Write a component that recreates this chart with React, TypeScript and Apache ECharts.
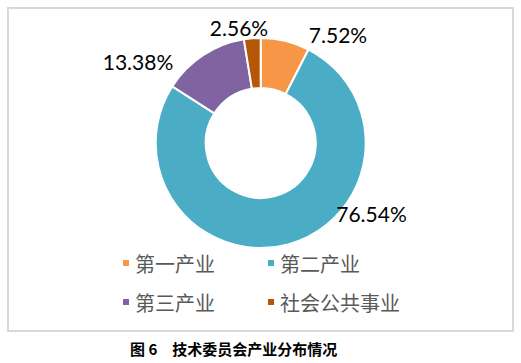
import React, { useEffect, useRef } from "react";
import * as echarts from "echarts";

const categories = ["第一产业", "第二产业", "第三产业", "社会公共事业"];
const values = [7.52, 76.54, 13.38, 2.56];
const colors = ["#F79646", "#4BACC6", "#8064A2", "#B65708"];
const caption = "图 6　技术委员会产业分布情况";

// label anchor positions (px) in chart space
const labelPos: [number, number][] = [
  [338, 34],
  [371.5, 213],
  [138, 61],
  [239, 27],
];

export default function App() {
  const ref = useRef<HTMLDivElement>(null);
  useEffect(() => {
    document.body.style.margin = "0";
    const chart = echarts.init(ref.current!, undefined, { renderer: "svg" });
    const legendText = {
      color: "#595959",
      fontSize: 20,
      fontFamily: "Noto Sans CJK SC",
    };
    const legendBase = {
      left: 116,
      itemWidth: 8,
      itemHeight: 8,
      itemGap: 51,
      icon: "rect",
      textStyle: legendText,
      selectedMode: false,
    };
    chart.setOption({
      animation: false,
      color: colors,
      legend: [
        { ...legendBase, data: [categories[0], categories[1]], top: 248 },
        { ...legendBase, data: [categories[2], categories[3]], top: 287 },
      ],
      graphic: [
        {
          type: "rect",
          shape: { x: 8, y: 8, width: 505, height: 323 },
          style: { fill: "none", stroke: "#D9D9D9", lineWidth: 2 },
          silent: true,
        },
        {
          type: "text",
          x: 130,
          y: 348,
          style: {
            text: caption,
            fill: "#000",
            font: "bold 15px 'Noto Sans CJK SC'",
            verticalAlign: "middle",
            align: "left",
          },
        },
      ],
      series: [
        {
          type: "pie",
          center: [260.7, 143],
          radius: [55, 105],
          startAngle: 90,
          clockwise: true,
          avoidLabelOverlap: false,
          itemStyle: { borderColor: "#fff", borderWidth: 2 },
          label: {
            show: true,
            position: "outside",
            formatter: (p: any) => Number(p.value).toFixed(2) + "%",
            color: "#000",
            fontSize: 21,
            fontFamily: "Lato",
          },
          labelLine: { show: false },
          labelLayout: (p: any) => ({
            x: labelPos[p.dataIndex][0],
            y: labelPos[p.dataIndex][1],
            align: "center",
            verticalAlign: "middle",
          }),
          emphasis: { disabled: true },
          data: categories.map((name, i) => ({ name, value: values[i] })),
        },
      ],
    });
    return () => chart.dispose();
  }, []);
  return <div ref={ref} style={{ width: 521, height: 363 }} />;
}
